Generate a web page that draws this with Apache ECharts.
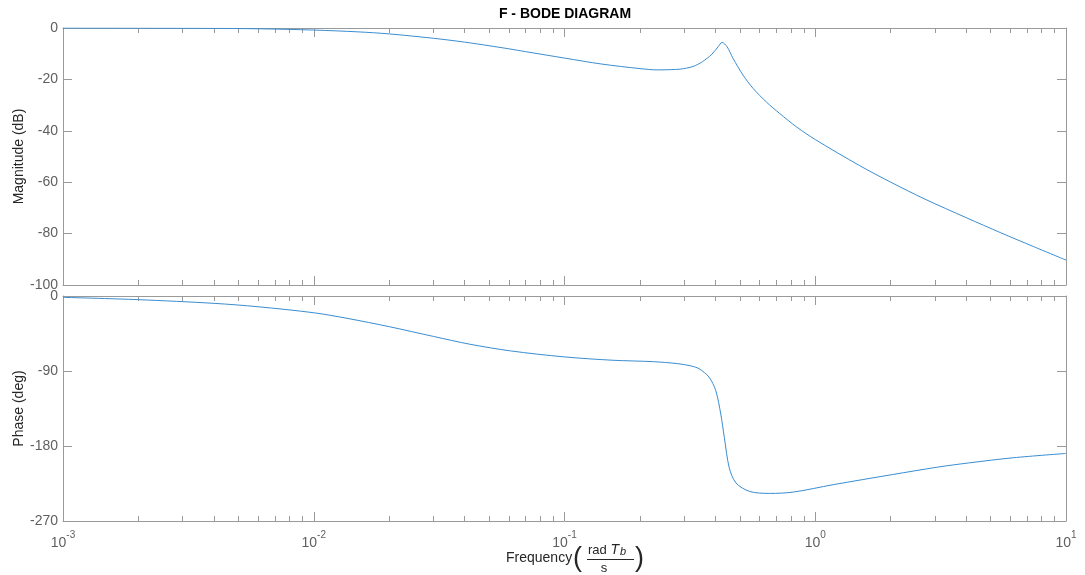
<!DOCTYPE html>
<html>
<head>
<meta charset="utf-8">
<script src="https://cdn.jsdelivr.net/npm/echarts@6/dist/echarts.min.js"></script>
<style>
html,body{margin:0;padding:0;background:#fff;}
#c{width:1085px;height:575px;}
</style>
</head>
<body>
<div id="c"></div>
<script>
// ---------- data ----------
const magFreq = [0.001, 0.002, 0.004, 0.006, 0.01, 0.015, 0.02, 0.03, 0.04, 0.05, 0.06, 0.07, 0.1, 0.14, 0.2, 0.235, 0.265, 0.29, 0.325, 0.355, 0.387, 0.41, 0.425, 0.445, 0.47, 0.515, 0.565, 0.64, 0.72, 0.845, 1.0, 1.5, 2.0, 2.74, 4.0, 5.5, 7.4, 10];
const magValues = [0, -0.05, -0.15, -0.3, -0.8, -1.5, -2.3, -4.0, -5.5, -6.9, -8.1, -9.2, -11.7, -14.0, -15.8, -16.3, -16.2, -16.0, -15.0, -13.1, -10.2, -7.3, -5.6, -7.3, -11.8, -18.3, -23.5, -28.9, -33.2, -38.6, -43.4, -53.5, -60.0, -66.6, -73.8, -79.7, -85.0, -90.3];

const phaseFreq = [0.001, 0.002, 0.004, 0.006, 0.01, 0.0137, 0.02, 0.03, 0.042, 0.061, 0.1, 0.156, 0.226, 0.283, 0.32, 0.344, 0.377, 0.401, 0.42, 0.434, 0.454, 0.483, 0.547, 0.658, 0.817, 1.18, 2.03, 3.07, 4.12, 6.17, 10];
const phaseValues = [-1.6, -4.4, -8.8, -12.9, -20.1, -27.0, -36.8, -48.5, -57.9, -65.9, -73.1, -77.1, -78.8, -81.2, -84.0, -87.2, -97.3, -113.4, -141.7, -169.9, -206.2, -224.4, -234.5, -236.9, -235.3, -226.4, -214.3, -205.4, -200.2, -194.1, -188.9];

const xMajorTicks = [0.001, 0.01, 0.1, 1, 10];
const xMinorTicks = [];
[0.001, 0.01, 0.1, 1].forEach(function (d) { for (let k = 2; k <= 9; k++) xMinorTicks.push(+(d * k).toPrecision(3)); });

const magRange = [-100, 0, 20];     // min, max, step
const phaseRange = [-270, 0, 90];

const titleText = 'F - BODE DIAGRAM';
const magLabel = 'Magnitude (dB)';
const phaseLabel = 'Phase (deg)';

// ---------- styling ----------
const FONT = '"Liberation Sans", Arial, Helvetica, sans-serif';
const axisColor = '#9a9a9a';
const labelColor = '#5f5f5f';
const textDark = '#262626';
const lineColor = '#3a8dd0';

const grids = [
  { left: 63, top: 28, width: 1003, height: 257, containLabel: false, outerBoundsMode: 'none' },
  { left: 63, top: 296, width: 1003, height: 225, containLabel: false, outerBoundsMode: 'none' }
];

function xAxisDef(gridIndex, position, minor, showLabel) {
  return {
    type: 'log', logBase: 10, gridIndex: gridIndex, position: position,
    min: 0.001, max: 10,
    axisLine: { show: !minor, onZero: false, lineStyle: { color: axisColor, width: 1 } },
    axisTick: {
      show: true, inside: true, length: minor ? 5 : 9,
      customValues: minor ? xMinorTicks : xMajorTicks,
      lineStyle: { color: axisColor, width: 1 }
    },
    axisLabel: showLabel ? {
      show: true, margin: 9,
      customValues: xMajorTicks,
      formatter: function (v) { return '{b|10}{sup|' + Math.round(Math.log10(v)) + '}'; },
      rich: {
        b: { fontSize: 14, fontFamily: FONT, color: labelColor, lineHeight: 20, verticalAlign: 'bottom' },
        sup: { fontSize: 10, fontFamily: FONT, color: labelColor, lineHeight: 10, verticalAlign: 'top' }
      }
    } : { show: false },
    splitLine: { show: false },
    minorTick: { show: false },
    minorSplitLine: { show: false }
  };
}

function yAxisDef(gridIndex, position, range, showLabel) {
  return {
    type: 'value', gridIndex: gridIndex, position: position,
    min: range[0], max: range[1], interval: range[2],
    axisLine: { show: true, onZero: false, lineStyle: { color: axisColor, width: 1 } },
    axisTick: { show: true, inside: true, length: 9, lineStyle: { color: axisColor, width: 1 } },
    axisLabel: showLabel ? { show: true, margin: 5, fontSize: 14, fontFamily: FONT, color: labelColor } : { show: false },
    splitLine: { show: false }
  };
}

const option = {
  animation: false,
  backgroundColor: '#ffffff',
  grid: grids,
  xAxis: [
    xAxisDef(0, 'bottom', false, false),
    xAxisDef(0, 'bottom', true, false),
    xAxisDef(0, 'top', false, false),
    xAxisDef(0, 'top', true, false),
    xAxisDef(1, 'bottom', false, true),
    xAxisDef(1, 'bottom', true, false),
    xAxisDef(1, 'top', false, false),
    xAxisDef(1, 'top', true, false)
  ],
  yAxis: [
    yAxisDef(0, 'left', magRange, true),
    yAxisDef(0, 'right', magRange, false),
    yAxisDef(1, 'left', phaseRange, true),
    yAxisDef(1, 'right', phaseRange, false)
  ],
  series: [
    {
      type: 'line', xAxisIndex: 0, yAxisIndex: 0,
      data: magFreq.map(function (f, i) { return [f, magValues[i]]; }),
      showSymbol: false, smooth: 0.3, clip: true,
      lineStyle: { color: lineColor, width: 1 }
    },
    {
      type: 'line', xAxisIndex: 4, yAxisIndex: 2,
      data: phaseFreq.map(function (f, i) { return [f, phaseValues[i]]; }),
      showSymbol: false, smooth: 0.3, clip: true,
      lineStyle: { color: lineColor, width: 1 }
    }
  ],
  graphic: [
    { type: 'text', x: 565, y: 14, style: { text: titleText, align: 'center', verticalAlign: 'middle', font: 'bold 14px ' + FONT, fill: '#000' } },
    { type: 'text', x: 19, y: 156.5, rotation: Math.PI / 2, style: { text: magLabel, align: 'center', verticalAlign: 'middle', font: '14px ' + FONT, fill: textDark } },
    { type: 'text', x: 19, y: 408.5, rotation: Math.PI / 2, style: { text: phaseLabel, align: 'center', verticalAlign: 'middle', font: '14px ' + FONT, fill: textDark } },
    { type: 'text', x: 506, y: 558, style: { text: 'Frequency', align: 'left', verticalAlign: 'middle', font: '14px ' + FONT, fill: textDark } },
    { type: 'text', x: 573, y: 559, style: { text: '(', align: 'left', verticalAlign: 'middle', font: '27px ' + FONT, fill: textDark } },
    { type: 'text', x: 588, y: 549, style: {
        text: '{r|rad }{t|T}{s|b}', align: 'left', verticalAlign: 'middle',
        rich: {
          r: { font: '13px ' + FONT, fill: textDark, lineHeight: 16, verticalAlign: 'bottom' },
          t: { font: 'italic 14px ' + FONT, fill: textDark, lineHeight: 16, verticalAlign: 'bottom' },
          s: { font: 'italic 11px ' + FONT, fill: textDark, lineHeight: 11, verticalAlign: 'bottom', padding: [0, 0, 0, 1] }
        }
      } },
    { type: 'line', shape: { x1: 587, y1: 559.5, x2: 634, y2: 559.5 }, style: { stroke: textDark, lineWidth: 1 } },
    { type: 'text', x: 604, y: 568, style: { text: 's', align: 'center', verticalAlign: 'middle', font: '13px ' + FONT, fill: textDark } },
    { type: 'text', x: 635, y: 559, style: { text: ')', align: 'left', verticalAlign: 'middle', font: '27px ' + FONT, fill: textDark } }
  ]
};

const chart = echarts.init(document.getElementById('c'), null, { renderer: 'canvas' });
chart.setOption(option);
</script>
</body>
</html>
